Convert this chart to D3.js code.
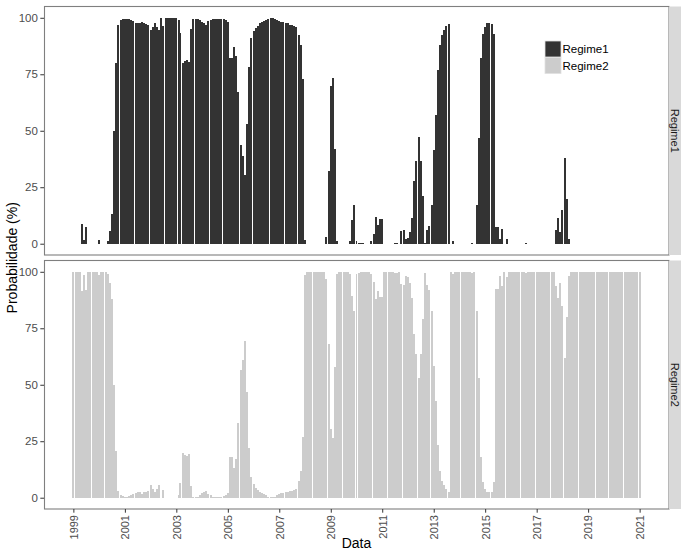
<!DOCTYPE html>
<html>
<head>
<meta charset="utf-8">
<script src="https://cdn.jsdelivr.net/npm/d3@7"></script>
<style>
    body { margin: 0; background: #fff; }
    svg { font-family: "Liberation Sans", Arial, sans-serif; }
    .bar { shape-rendering: crispEdges; }
</style>
</head>
<body>
<div id="chart"></div>
<script>
// Probabilidades mensais, jan/1999 a jan/2021 (uma linha por ano)
const regime1 = [
    0, 0, 0, 0, 8.8, 1.8, 7.5, 0, 0, 0, 0, 0,
    1.5, 0, 0, 0, 1, 5.5, 13, 50, 80, 97, 99, 99.3,
    99.5, 99.5, 99.4, 99, 98.5, 97.9, 97.6, 97.6, 98.2, 97.5, 97.3, 97,
    94.5, 96, 97.5, 96, 94.5, 100, 96.5, 100, 100, 100, 100, 100,
    100, 99, 93.4, 80, 81, 81.5, 80.5, 95, 99.5, 99.5, 99.5, 99,
    98, 97.5, 97, 98.5, 99, 99.5, 99.5, 99.5, 99.5, 99.5, 99.3, 99,
    98, 82, 82, 87, 83, 67, 43.5, 39, 30.5, 53, 78, 91,
    94, 95.5, 96.5, 97.5, 98, 98.5, 99, 99.5, 99.8, 99.8, 99.5, 99,
    98.5, 98, 98, 97.5, 97.5, 97, 97, 96.5, 96, 92.5, 88, 73,
    1.5, 0, 0, 0, 0, 0, 0, 0, 0, 0, 3, 32,
    69.6, 73.5, 42, 1, 0, 0, 0, 0, 0, 1, 10.6, 17.3,
    1, 0.5, 0.3, 0.3, 0, 0, 0, 1, 4.4, 12, 8.4, 11,
    11, 0, 0, 0, 0, 0, 0.5, 0.5, 0, 5.5, 6, 2,
    2.4, 5, 11.4, 27.6, 36.4, 47.2, 36.4, 21, 0.5, 6, 8, 17.3,
    41.6, 57, 76.7, 88, 92.5, 94.4, 96.2, 97.3, 0, 1, 0, 0,
    0, 0, 0, 0, 0, 0, 0.5, 0, 17.3, 47, 82, 93,
    96, 97.6, 97.5, 97.3, 93, 7.5, 7.4, 2, 6.3, 0, 2.3, 0,
    0, 0, 0, 0, 0, 0, 0, 0.5, 0, 0, 0, 0,
    0, 0, 0, 0, 0, 0, 0, 0, 0, 6.2, 11.5, 5,
    15, 38, 20, 2, 0, 0, 0, 0, 0, 0, 0, 0,
    0, 0, 0, 0, 0, 0, 0, 0, 0, 0, 0, 0,
    0, 0, 0, 0, 0, 0, 0, 0, 0, 0, 0, 0,
    0
];

const regime2 = [
    100, 100, 100, 100, 91.3, 98.5, 92, 100, 100, 100, 100, 100,
    98.5, 100, 100, 100, 99, 95, 88, 50, 20.5, 2.8, 1, 0.7,
    0.5, 0.5, 0.6, 1, 1.5, 2.1, 2.4, 2.4, 1.8, 2.5, 2.7, 3,
    5.5, 4, 2.5, 4, 5.5, 0, 3.5, 0, 0, 0, 0, 0,
    0, 1, 6.6, 20, 19, 18.5, 19.5, 5, 0.5, 0.5, 0.5, 1,
    2, 2.5, 3, 1.5, 1, 0.5, 0.5, 0.5, 0.5, 0.5, 0.7, 1,
    2, 18, 18, 13, 17, 33, 56.5, 61, 69.5, 47, 22, 9,
    6, 4.5, 3.5, 2.5, 2, 1.5, 1, 0.5, 0.2, 0.2, 0.5, 1,
    1.5, 2, 2, 2.5, 2.5, 3, 3, 3.5, 4, 7.5, 12, 27,
    98.5, 100, 100, 100, 100, 100, 100, 100, 100, 100, 97, 68,
    30.4, 26.5, 58, 99, 100, 100, 100, 100, 100, 99, 89.4, 82.7,
    99, 99.5, 99.7, 99.7, 100, 100, 100, 99, 95.6, 88, 91.6, 89,
    89, 100, 100, 100, 100, 100, 99.5, 99.5, 100, 94.5, 94, 98,
    97.6, 95, 88.6, 72.4, 63.6, 52.8, 63.6, 79, 99.5, 94, 92, 82.7,
    58.4, 43, 23.3, 12, 7.5, 5.6, 3.8, 2.7, 100, 99, 100, 100,
    100, 100, 100, 100, 100, 100, 99.5, 100, 82.7, 53, 18, 7,
    4, 2.4, 2.5, 2.7, 7, 92.5, 92.6, 98, 93.7, 100, 97.7, 100,
    100, 100, 100, 100, 100, 100, 100, 99.5, 100, 100, 100, 100,
    100, 100, 100, 100, 100, 100, 100, 100, 100, 93.8, 88.5, 95,
    85, 62, 80, 98, 100, 100, 100, 100, 100, 100, 100, 100,
    100, 100, 100, 100, 100, 100, 100, 100, 100, 100, 100, 100,
    100, 100, 100, 100, 100, 100, 100, 100, 100, 100, 100, 100,
    100
];

const regimes = ['Regime1', 'Regime2'];
const regimeColors = ['#333333', '#cccccc'];
const tickYears = [1999, 2001, 2003, 2005, 2007, 2009, 2011, 2013, 2015, 2017, 2019, 2021];
const yTicks = [0, 25, 50, 75, 100];

const months = d3.timeMonth.range(new Date(1999, 0, 1), new Date(2021, 1, 1));
const series = [regime1, regime2];

const W = 681, H = 552;
const margin = { top: 6.5, right: 12, bottom: 43, left: 44 };
const gap = 5.5;
const panelW = W - margin.left - margin.right;
const panelH = (H - margin.top - margin.bottom - gap) / 2;

const svg = d3.select('#chart')
    .append('svg')
    .attr('width', W)
    .attr('height', H);

// escala de tempo com expansão de 5% como no ggplot
const monthMs = 30.44 * 864e5;
const t0 = +months[0] - 0.45 * monthMs;
const t1 = +months[months.length - 1] + 0.45 * monthMs;
const pad = (t1 - t0) * 0.05;

const x = d3.scaleTime()
    .domain([new Date(t0 - pad), new Date(t1 + pad)])
    .range([0, panelW]);

const y = d3.scaleLinear()
    .domain([-5, 105])
    .range([panelH, 0]);

const barW = x(new Date(+months[0] + 0.93 * monthMs)) - x(months[0]);

regimes.forEach((name, i) => {
    const top = margin.top + i * (panelH + gap);
    const g = svg.append('g')
        .attr('transform', `translate(${margin.left},${top})`);

    const data = months.map((d, j) => ({ date: d, value: series[i][j] }));

    g.selectAll('.bar')
        .data(data)
        .enter()
        .append('rect')
        .attr('class', 'bar')
        .attr('x', d => x(d.date) - barW / 2)
        .attr('width', barW)
        .attr('y', d => y(d.value))
        .attr('height', d => y(0) - y(d.value))
        .attr('fill', regimeColors[i]);

    // borda do painel
    g.append('rect')
        .attr('x', 0.5)
        .attr('y', 0)
        .attr('width', panelW - 0.5)
        .attr('height', panelH)
        .attr('fill', 'none')
        .attr('stroke', '#7f7f7f')
        .attr('stroke-width', 1.1);

    // eixo y
    const yAxis = g.append('g')
        .call(d3.axisLeft(y).tickValues(yTicks).tickSize(3.7).tickPadding(2.5));
    yAxis.select('.domain').remove();
    yAxis.selectAll('line').attr('stroke', '#333');
    yAxis.selectAll('text')
        .attr('fill', '#4d4d4d')
        .style('font-size', '11.5px')
        .style('font-family', '"Liberation Sans", Arial, sans-serif');

    // faixa lateral
    g.append('rect')
        .attr('x', panelW)
        .attr('y', 0)
        .attr('width', 30)
        .attr('height', panelH)
        .attr('fill', '#d9d9d9');

    g.append('text')
        .attr('transform', `translate(${panelW + 6},${panelH / 2}) rotate(90)`)
        .attr('text-anchor', 'middle')
        .attr('dy', '0.35em')
        .attr('fill', '#1a1a1a')
        .style('font-size', '11px')
        .text(name);

    if (i === 1) {
        const xAxis = g.append('g')
            .attr('transform', `translate(0,${panelH})`)
            .call(d3.axisBottom(x)
                .tickValues(tickYears.map(yr => new Date(yr, 0, 1)))
                .tickFormat(d3.timeFormat('%Y'))
                .tickSize(3.7));
        xAxis.select('.domain').remove();
        xAxis.selectAll('line').attr('stroke', '#333');
        xAxis.selectAll('text')
            .attr('fill', '#4d4d4d')
            .style('font-size', '11px')
            .style('font-family', '"Liberation Sans", Arial, sans-serif')
            .attr('text-anchor', 'end')
            .attr('transform', 'rotate(-90)')
            .attr('x', -6)
            .attr('y', 0)
            .attr('dy', '0.35em');
    }
});

// legenda
const legend = svg.append('g')
    .attr('transform', `translate(${margin.left + 501},41)`);

regimes.forEach((name, i) => {
    legend.append('rect')
        .attr('x', 0)
        .attr('y', i * 16.5)
        .attr('width', 16)
        .attr('height', 16)
        .attr('fill', regimeColors[i])
        .attr('stroke', '#e0e0e0')
        .attr('stroke-width', 0.8);
    legend.append('text')
        .attr('x', 17.5)
        .attr('y', i * 16.5 + 8)
        .attr('dy', '0.35em')
        .style('font-size', '11.5px')
        .attr('fill', '#000')
        .text(name);
});

// títulos dos eixos
svg.append('text')
    .attr('text-anchor', 'middle')
    .attr('x', margin.left + panelW / 2)
    .attr('y', H - 4)
    .style('font-size', '14px')
    .text('Data');

svg.append('text')
    .attr('text-anchor', 'middle')
    .attr('transform', `translate(17,${margin.top + panelH + gap / 2}) rotate(-90)`)
    .style('font-size', '14px')
    .text('Probabilidade (%)');
</script>
</body>
</html>
